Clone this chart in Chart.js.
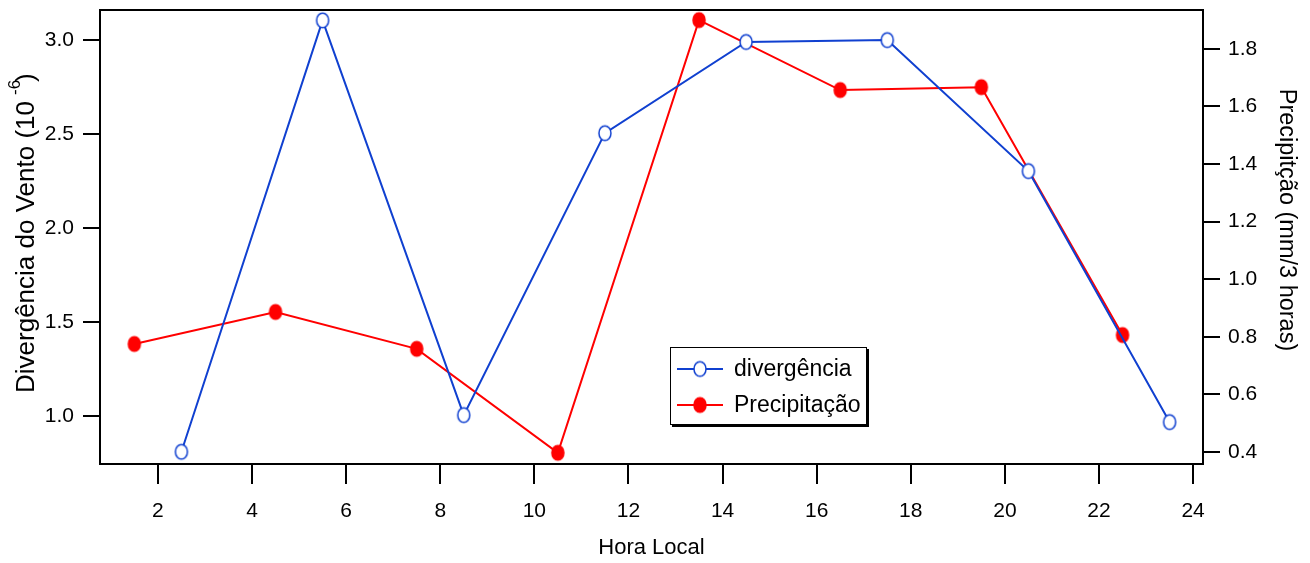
<!DOCTYPE html>
<html>
<head>
<meta charset="utf-8">
<script src="https://cdn.jsdelivr.net/npm/chart.js@4/dist/chart.umd.min.js"></script>
<style>
  html, body { margin: 0; padding: 0; background: #fff; }
  #wrap { width: 1310px; height: 563px; }
</style>
</head>
<body>
<div id="wrap"><canvas id="myChart"></canvas></div>
<script>
// dados
const horaDiv = [2.5, 5.5, 8.5, 11.5, 14.5, 17.5, 20.5, 23.5];
const divergencia = [0.81, 3.105, 1.005, 2.505, 2.99, 3.0, 2.303, 0.968];
const horaPrec = [1.5, 4.5, 7.5, 10.5, 13.5, 16.5, 19.5, 22.5];
const precipitacao = [0.775, 0.886, 0.758, 0.397, 1.9, 1.657, 1.667, 0.806];
const xTicks = [2, 4, 6, 8, 10, 12, 14, 16, 18, 20, 22, 24];
const divTicks = [1.0, 1.5, 2.0, 2.5, 3.0];
const precTicks = [0.4, 0.6, 0.8, 1.0, 1.2, 1.4, 1.6, 1.8];

const FONT = "'Liberation Sans', Arial, sans-serif";
const AZUL = "#1040d0";
const VERMELHO = "#ff0000";

// marcador oval (o original é um pouco mais alto que largo)
function marcador(fill, stroke) {
  const c = document.createElement("canvas");
  c.width = 16;
  c.height = 19;
  const g = c.getContext("2d");
  g.beginPath();
  g.ellipse(8, 9.5, 6, 7.3, 0, 0, Math.PI * 2);
  g.fillStyle = fill;
  g.fill();
  g.lineWidth = 1.5;
  g.strokeStyle = stroke;
  g.stroke();
  return c;
}
const pontoAzul = marcador("#fff", AZUL);
const pontoVermelho = marcador(VERMELHO, VERMELHO);

function fixTicks(list) {
  return function (scale) {
    scale.ticks = list.map((v) => ({ value: v }));
  };
}

//moldura, títulos e legenda
const extras = {
  id: "extras",
  afterDraw(chart) {
    const ctx = chart.ctx;
    const a = chart.chartArea;
    ctx.save();
    // linha de cima
    ctx.strokeStyle = "#000";
    ctx.lineWidth = 2;
    ctx.beginPath();
    ctx.moveTo(a.left - 1, a.top);
    ctx.lineTo(a.right + 1, a.top);
    ctx.stroke();

    // título esquerdo com expoente
    ctx.fillStyle = "#000";
    ctx.save();
    ctx.translate(34, 393);
    ctx.rotate(-Math.PI / 2);
    ctx.textBaseline = "alphabetic";
    ctx.textAlign = "left";
    ctx.font = "26px " + FONT;
    const main = "Divergência do Vento (10";
    const w = ctx.measureText(main).width;
    ctx.fillText(main, 0, 0);
    ctx.font = "17px " + FONT;
    const sup = "-6";
    const ws = ctx.measureText(sup).width;
    ctx.fillText(sup, w + 6, -14);
    ctx.font = "26px " + FONT;
    ctx.fillText(")", w + 6 + ws - 2, 0);
    ctx.restore();

    // título direito
    ctx.save();
    ctx.translate(1286, 220);
    ctx.rotate(Math.PI / 2);
    ctx.textAlign = "center";
    ctx.textBaseline = "middle";
    ctx.font = "23.5px " + FONT;
    ctx.fillText("Precipitção (mm/3 horas)", 0, 0);
    ctx.restore();

    // legenda
    const lx = 670, ly = 347, lw = 197, lh = 78;
    ctx.fillStyle = "#000";
    ctx.fillRect(lx + 2, ly + 2, lw, lh);
    ctx.fillStyle = "#fff";
    ctx.fillRect(lx, ly, lw, lh);
    ctx.strokeStyle = "#000";
    ctx.lineWidth = 1;
    ctx.strokeRect(lx + 0.5, ly + 0.5, lw - 1, lh - 1);
    chart.data.datasets.forEach((ds, i) => {
      const y = ly + 22 + i * 36;
      ctx.strokeStyle = ds.borderColor;
      ctx.lineWidth = 2;
      ctx.beginPath();
      ctx.moveTo(lx + 7, y);
      ctx.lineTo(lx + 53, y);
      ctx.stroke();
      const img = ds.pointStyle;
      ctx.drawImage(img, lx + 30 - img.width / 2, y - img.height / 2);
      ctx.fillStyle = "#000";
      ctx.font = "23px " + FONT;
      ctx.textAlign = "left";
      ctx.textBaseline = "middle";
      ctx.fillText(ds.label, lx + 64, y + 1);
    });
    ctx.restore();
  },
};

loadchart();
function loadchart() {
  const data = {
    datasets: [
      {
        label: "divergência",
        data: horaDiv.map((x, i) => ({ x: x, y: divergencia[i] })),
        yAxisID: "yDiv",
        borderColor: AZUL,
        borderWidth: 2,
        pointStyle: pontoAzul,
      },
      {
        label: "Precipitação",
        data: horaPrec.map((x, i) => ({ x: x, y: precipitacao[i] })),
        yAxisID: "yPrec",
        borderColor: VERMELHO,
        borderWidth: 2,
        pointStyle: pontoVermelho,
      },
    ],
  };

  const tickFont = { family: FONT, size: 21 };
  const noPad = (s, size) => {
    s.paddingTop = 0;
    s.paddingBottom = 0;
    s.paddingLeft = 0;
    s.paddingRight = 0;
    if (s.isHorizontal()) s.height = size;
    else s.width = size;
  };
  const config = {
    type: "line",
    data: data,
    plugins: [extras],
    options: {
      responsive: true,
      maintainAspectRatio: false,
      animation: false,
      layout: { padding: { top: 10, left: 0, right: 0, bottom: 0 } },
      plugins: { legend: { display: false }, tooltip: { enabled: false } },
      scales: {
        x: {
          type: "linear",
          min: 0.77,
          max: 24.21,
          afterBuildTicks: fixTicks(xTicks),
          afterFit: (s) => noPad(s, 99),
          border: { display: true, color: "#000", width: 2 },
          grid: { drawOnChartArea: false, drawTicks: true, tickLength: 20, color: "#000", lineWidth: 2 },
          ticks: { color: "#000", font: tickFont, padding: 15, callback: (v) => String(v) },
          title: { display: true, text: "Hora Local", color: "#000", font: { family: FONT, size: 22 }, padding: { top: 0, bottom: 2 } },
        },
        yDiv: {
          position: "left",
          min: 0.745,
          max: 3.16,
          afterBuildTicks: fixTicks(divTicks),
          afterFit: (s) => noPad(s, 100),
          border: { display: true, color: "#000", width: 2 },
          grid: { drawOnChartArea: false, drawTicks: true, tickLength: 17, color: "#000", lineWidth: 2 },
          ticks: { color: "#000", font: tickFont, padding: 9, callback: (v) => v.toFixed(1) },
        },
        yPrec: {
          position: "right",
          min: 0.358,
          max: 1.935,
          afterBuildTicks: fixTicks(precTicks),
          afterFit: (s) => noPad(s, 107),
          border: { display: true, color: "#000", width: 2 },
          grid: { drawOnChartArea: false, drawTicks: true, tickLength: 17, color: "#000", lineWidth: 2 },
          ticks: { color: "#000", font: tickFont, padding: 8, callback: (v) => v.toFixed(1) },
        },
      },
    },
  };
  const myChart = new Chart(document.getElementById("myChart"), config);
}
</script>
</body>
</html>
